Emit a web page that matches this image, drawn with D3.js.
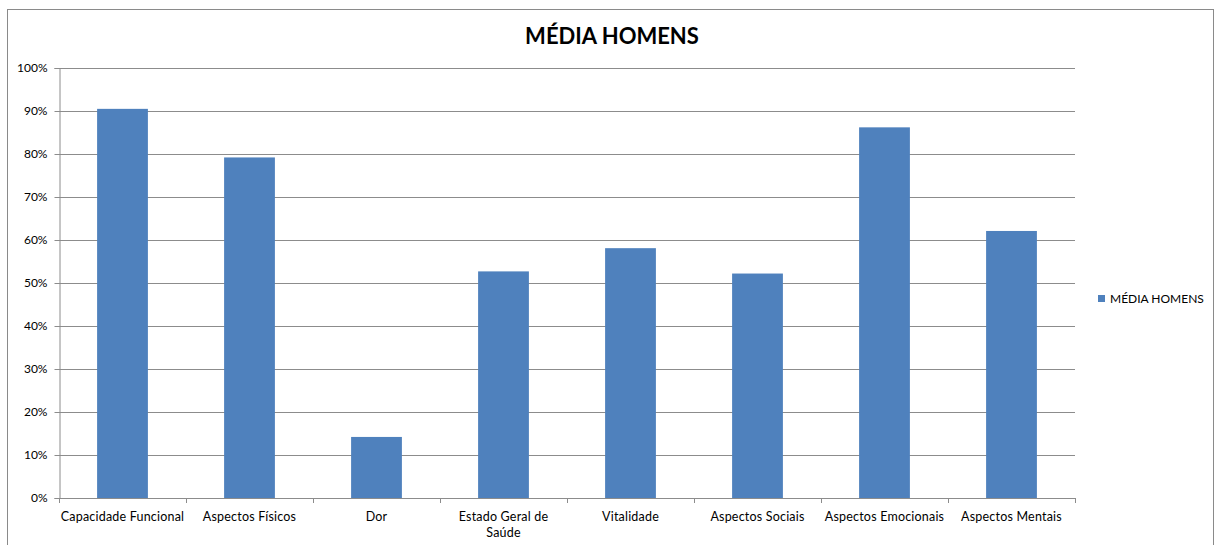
<!DOCTYPE html>
<html>
<head>
<meta charset="utf-8">
<script src="https://cdn.jsdelivr.net/npm/d3@7"></script>
<style>
  html, body { margin: 0; padding: 0; background: #fff; }
  svg { display: block; }
  text { font-family: Lato, "Open Sans", sans-serif; fill: #000; }
</style>
</head>
<body>
<svg id="chart" width="1216" height="545"></svg>
<script>
// Average SF-36 domain scores for men
const categories = [
  "Capacidade Funcional", "Aspectos Físicos", "Dor", "Estado Geral de Saúde",
  "Vitalidade", "Aspectos Sociais", "Aspectos Emocionais", "Aspectos Mentais"
];
const values = [0.905, 0.792, 0.142, 0.527, 0.581, 0.522, 0.862, 0.621];
const yTicks = [0, 0.1, 0.2, 0.3, 0.4, 0.5, 0.6, 0.7, 0.8, 0.9, 1.0];
const seriesName = "MÉDIA HOMENS";
const chartTitle = "MÉDIA HOMENS";

const barColor = "#4f81bd";
const gridColor = "#8c8c8c";

const svg = d3.select("#chart");

// outer chart frame
svg.append("rect")
  .attr("x", 7.5).attr("y", 9.5)
  .attr("width", 1206).attr("height", 560)
  .attr("fill", "#fff")
  .attr("stroke", "#8a8a8a").attr("stroke-width", 1);

const plot = { left: 59, right: 1075, top: 68, bottom: 498 };

const x = d3.scaleBand()
  .domain(categories)
  .range([plot.left, plot.right])
  .paddingInner(0.6)
  .paddingOuter(0.3);

const y = d3.scaleLinear()
  .domain([0, 1])
  .range([plot.bottom, plot.top]);

// horizontal gridlines
svg.append("g")
  .selectAll("line")
  .data(yTicks.filter(d => d > 0))
  .join("line")
  .attr("x1", plot.left).attr("x2", plot.right)
  .attr("y1", d => Math.round(y(d)) + 0.5)
  .attr("y2", d => Math.round(y(d)) + 0.5)
  .attr("stroke", gridColor).attr("stroke-width", 1);

// bars
svg.append("g")
  .selectAll("rect")
  .data(values)
  .join("rect")
  .attr("x", (d, i) => x(categories[i]))
  .attr("width", x.bandwidth())
  .attr("y", d => y(d))
  .attr("height", d => y(0) - y(d))
  .attr("fill", barColor);

// y axis
const yAxis = d3.axisLeft(y)
  .tickValues(yTicks)
  .tickFormat(d3.format(".0%"))
  .tickSize(5)
  .tickPadding(7);

const gy = svg.append("g")
  .attr("transform", `translate(${plot.left + 0.5},0)`)
  .call(yAxis);
gy.select(".domain").attr("stroke", gridColor);
gy.selectAll(".tick line").attr("stroke", gridColor);
gy.selectAll(".tick text")
  .attr("font-family", "Lato, 'Open Sans', sans-serif")
  .attr("font-size", 12)
  .attr("fill", "#000");

// x axis with tick marks on category boundaries
const boundaries = d3.range(categories.length + 1).map(i => plot.left + i * (plot.right - plot.left) / categories.length);

const gx = svg.append("g");
gx.append("line")
  .attr("x1", plot.left).attr("x2", plot.right)
  .attr("y1", plot.bottom + 0.5).attr("y2", plot.bottom + 0.5)
  .attr("stroke", gridColor);
gx.selectAll("line.tick")
  .data(boundaries)
  .join("line")
  .attr("class", "tick")
  .attr("x1", d => Math.round(d) + 0.5).attr("x2", d => Math.round(d) + 0.5)
  .attr("y1", plot.bottom).attr("y2", plot.bottom + 5)
  .attr("stroke", gridColor);

// category labels, wrapping the long one onto two lines
const labelLines = {
  "Estado Geral de Saúde": ["Estado Geral de", "Saúde"]
};
const labels = gx.selectAll("text.cat")
  .data(categories)
  .join("text")
  .attr("class", "cat")
  .attr("x", d => x(d) + x.bandwidth() / 2)
  .attr("y", 521)
  .attr("text-anchor", "middle")
  .attr("font-size", 12.5)
  .attr("letter-spacing", 0.2);
labels.each(function(d) {
  const lines = labelLines[d] || [d];
  d3.select(this).selectAll("tspan")
    .data(lines)
    .join("tspan")
    .attr("x", x(d) + x.bandwidth() / 2)
    .attr("dy", (l, i) => i === 0 ? 0 : 16)
    .text(l => l);
});

// title
svg.append("text")
  .attr("x", 612).attr("y", 44)
  .attr("text-anchor", "middle")
  .attr("font-size", 22)
  .attr("font-weight", "bold")
  .text(chartTitle);

// legend
const legend = svg.append("g").attr("transform", "translate(1098,295)");
legend.append("rect")
  .attr("width", 7).attr("height", 7)
  .attr("fill", barColor);
legend.append("text")
  .attr("x", 12).attr("y", 8)
  .attr("font-size", 12)
  .text(seriesName);
</script>
</body>
</html>
